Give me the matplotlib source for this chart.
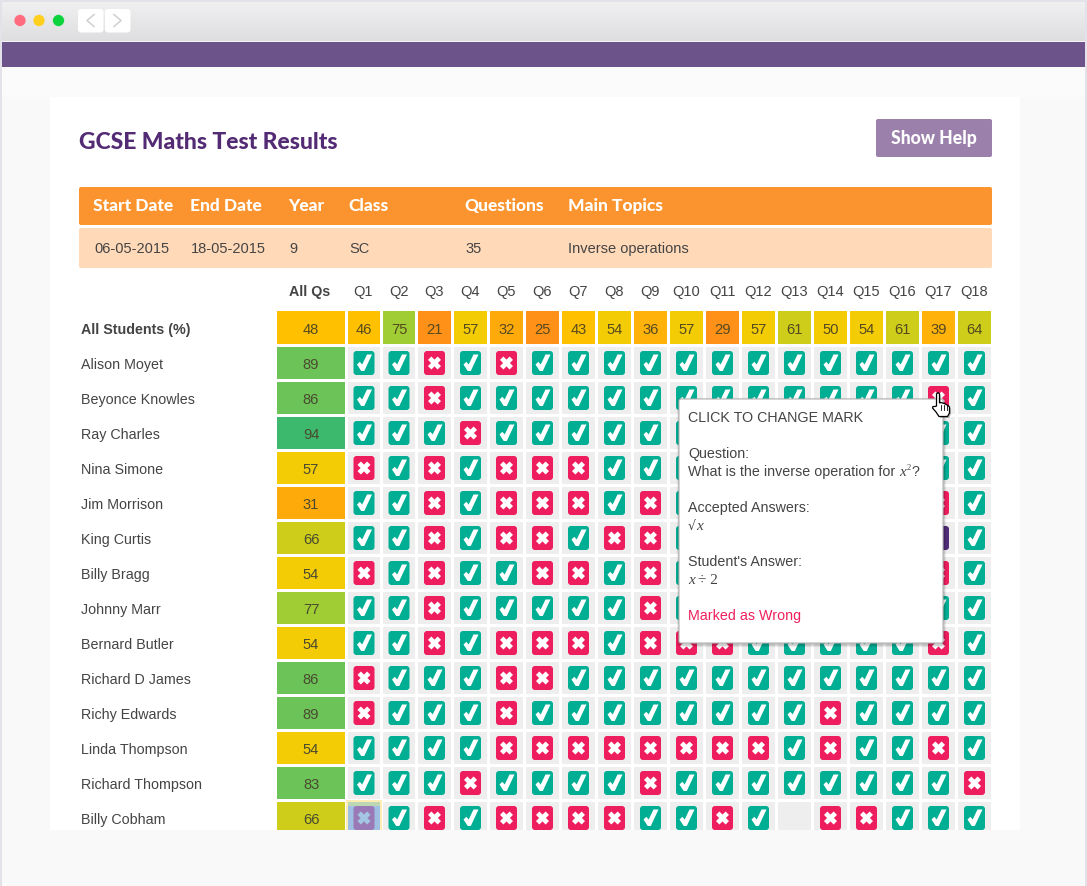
import numpy as np
import matplotlib
matplotlib.use("Agg")
import matplotlib.pyplot as plt
from matplotlib.patches import Rectangle, FancyBboxPatch, Polygon, Circle

# -- data --
title = "GCSE Maths Test Results"
info_heads = ["Start Date", "End Date", "Year", "Class", "Questions", "Main Topics"]
info_vals = ["06-05-2015", "18-05-2015", "9", "SC", "35", "Inverse operations"]
questions = ["Q%d" % i for i in range(1, 19)]
q_averages = [46, 75, 21, 57, 32, 25, 43, 54, 36, 57, 29, 57, 61, 50, 54, 61, 39, 64]
all_average = 48
students = ["Alison Moyet", "Beyonce Knowles", "Ray Charles", "Nina Simone", "Jim Morrison",
            "King Curtis", "Billy Bragg", "Johnny Marr", "Bernard Butler", "Richard D James",
            "Richy Edwards", "Linda Thompson", "Richard Thompson", "Billy Cobham"]
student_scores = [89, 86, 94, 57, 31, 66, 54, 77, 54, 86, 89, 54, 83, 66]
# c right, x wrong, p selected, h dragged, . not marked
marks = ["ccxcxccccccccccccc",
         "ccxcccccccccccccxc",
         "cccxcccccccccccccc",
         "xcxcxxxccccccccccc",
         "ccxcxxxcxcccccccxc",
         "ccxcxxcxxcccccccpc",
         "xcxccxxcxcccccccxc",
         "ccxcccccxccccccccc",
         "ccxcxxxcxxxcccccxc",
         "xcccxxcccccccccccc",
         "xcccxccccccccxcccc",
         "ccccxxxxxxxxcxccxc",
         "cccxccccxccccccccx",
         "hcxcxxxxccxc.xxccc"]
tooltip_lines = ["CLICK TO CHANGE MARK", "Question:", "What is the inverse operation for",
                 "Accepted Answers:", "Student's Answer:"]

BODY = "Liberation Sans"
SERIF = "Liberation Serif"
HEAD = "Lato"
TEAL = "#00AE93"
PINK = "#EE1E5E"
INK = "#444444"


def score_colour(v):
    # bands as they look on the page
    bands = [(30, "#FF9018"), (35, "#FFAA0B"), (42, "#FFB20A"), (49, "#FFC000"),
             (58, "#F3CC06"), (70, "#CDCD1A"), (80, "#A0CC34"), (90, "#6CC358")]
    for top, col in bands:
        if v < top:
            return col
    return "#3DB96E"


def col_left(j):
    # the first two columns are a pixel narrower
    return 348 + 35 * j if j < 2 else 418 + 36 * (j - 2)


def col_width(j):
    return 32 if j < 2 else 33


fig = plt.figure(figsize=(10.87, 8.86), dpi=100)
ax = fig.add_axes([0, 0, 1, 1])
ax.set_xlim(0, 1087)
ax.set_ylim(886, 0)
ax.axis("off")


def box(x0, y0, x1, y1, col, z=1, **kw):
    ax.add_patch(Rectangle((x0, y0), x1 - x0, y1 - y0, fc=col, ec="none", zorder=z, **kw))


def rbox(x0, y0, x1, y1, col, r=3, z=1, ec="none", lw=0):
    ax.add_patch(FancyBboxPatch((x0 + r, y0 + r), x1 - x0 - 2 * r, y1 - y0 - 2 * r,
                                boxstyle="round,pad=%g,rounding_size=%g" % (r, r),
                                fc=col, ec=ec, lw=lw, zorder=z))


def vgrad(x0, y0, x1, y1, c0, c1, z=1):
    g = np.linspace(0, 1, 64)[:, None, None]
    a = np.array(matplotlib.colors.to_rgb(c0))
    b = np.array(matplotlib.colors.to_rgb(c1))
    ax.imshow(a + (b - a) * g * np.ones((64, 1, 3)), extent=(x0, x1, y1, y0),
              aspect="auto", zorder=z, interpolation="bilinear")
    ax.set_xlim(0, 1087)
    ax.set_ylim(886, 0)


TICK = [(-7, 1.5), (-4.2, -1.2), (-1.8, 1.5), (3, -8.5), (8, -8.5), (0.3, 8), (-2.8, 8)]
a, b = 2.4, 6.8
PLUS = np.array([(-a, -b), (a, -b), (a, -a), (b, -a), (b, a), (a, a), (a, b), (-a, b),
                 (-a, a), (-b, a), (-b, -a), (-a, -a)])
CROSS = PLUS @ np.array([[1, -1], [1, 1]]) / np.sqrt(2)


def draw_icon(cx, cy, kind, z=3):
    col = {"c": TEAL, "x": PINK, "p": "#512D78", "h": "#9A7AB6"}[kind]
    fg = "#A4C6E4" if kind == "h" else "white"
    rbox(cx - 10.5, cy - 12, cx + 10.5, cy + 12, col, r=3, z=z)
    if kind == "p":
        return  # glyph sits under the tooltip
    pts = TICK if kind == "c" else CROSS
    ax.add_patch(Polygon([(cx + px, cy + py) for px, py in pts], closed=True, fc=fg, ec="none", zorder=z))


def label(x, y, s, size=10.3, col=INK, ha="left", weight="normal", family=BODY, z=5, style="normal"):
    return ax.text(x, y, s, fontsize=size, color=col, ha=ha, va="center", fontweight=weight,
                   family=family, zorder=z, fontstyle=style)


# -- window chrome --
box(0, 0, 1087, 886, "#E2E2E8", z=0)
box(2, 2, 1085, 886, "#F9F9FA", z=0)
vgrad(2, 2, 1085, 41, "#F0F0F1", "#DEDDDF", z=0.5)
box(2, 41, 1085, 42, "#F5F5F5", z=0.6)
box(2, 42, 1085, 67, "#6C548B", z=0.6)
box(2, 67, 1085, 97, "#FBFBFB", z=0.6)
box(50, 97, 1020, 830, "white", z=0.7)
for cx, col in zip([20, 39, 58.5], ["#FF6B7F", "#FFCF1E", "#0CD23C"]):
    ax.add_patch(Circle((cx, 20.5), 6, fc=col, ec="#E8E8E8", lw=0.5, zorder=1))
for x0, pts in [(78, [(16, 5.5), (9, 11.5), (16, 17.5)]), (105, [(9, 5.5), (16, 11.5), (9, 17.5)])]:
    rbox(x0, 9, x0 + 25.5, 32.5, "white", r=3, z=1)
    ax.plot([x0 + p[0] for p in pts], [9 + p[1] for p in pts], color="#CFCFCF", lw=1.1, zorder=2)

# -- heading and info table --
label(79, 142, title, size=16.5, col="#532A74", weight="black", family=HEAD)
rbox(876, 119, 992, 157, "#9C80AC", r=2)
label(934, 138, "Show Help", size=12.7, col="white", ha="center", weight="black", family=HEAD)
rbox(79, 187, 992, 225, "#FB942E", r=2)
rbox(79, 228, 992, 268, "#FFD9B8", r=2)
for x, s in zip([93, 190, 288, 348, 464, 568], info_heads):
    label(x, 206, s, size=12.5, col="white", weight="black", family=HEAD)
for x, s in zip([94, 191, 289, 349, 465, 568], info_vals):
    label(x, 248.5, s, size=10.5)

# -- results grid --
label(310, 292, "All Qs", ha="center", weight="bold")
label(81, 330, "All Students (%)", weight="bold")
box(277, 311, 345, 344, score_colour(all_average))
label(311, 330, str(all_average), ha="center", col="#554a20", size=10.6)
for j, q in enumerate(questions):
    xc = col_left(j) + col_width(j) / 2
    label(xc - 0.5, 292, q, ha="center", size=10.5)
    box(col_left(j), 311, col_left(j) + col_width(j), 344, score_colour(q_averages[j]))
    label(xc, 330, str(q_averages[j]), ha="center", col="#554a20", size=10.6)

for i, name in enumerate(students):
    top = 347 + 35 * i
    yc = top + 17
    label(81, yc + 1, name)
    box(277, top, 345, top + 32, score_colour(student_scores[i]))
    label(311, yc + 1, str(student_scores[i]), ha="center", col="#4a4a30", size=10.6)
    for j, m in enumerate(marks[i]):
        xc = col_left(j) + col_width(j) / 2
        box(col_left(j), top, col_left(j) + col_width(j), top + 32, "#EEEEEE", z=2)
        if m == "h":
            # cell being dragged
            box(col_left(j) - 2, top - 2, col_left(j) + col_width(j) + 2, top + 34, "#FFEDB8", z=2.2)
            box(col_left(j), top, col_left(j) + col_width(j), top + 34, "#9FC0E2", z=2.3)
            box(col_left(j), top, col_left(j) + col_width(j), top + 4, "#BDD6B4", z=2.4)
        if m != ".":
            draw_icon(xc, top + 16, m)

# page foot hides the last row
box(2, 830, 1085, 886, "#F9F9FA", z=4)

# -- tooltip --
for k, al in zip([5, 4, 3, 2, 1], [0.02, 0.03, 0.04, 0.05, 0.07]):
    rbox(679 - k / 2, 399 + 1 - k / 2, 943 + 1 + k / 2, 643 + 2 + k / 2, (0, 0, 0, al), r=3, z=6)
rbox(679, 399, 943, 643, "white", r=2, z=7, ec="#B4B4B4", lw=0.8)
label(688, 418, tooltip_lines[0], z=8)
label(688, 454, tooltip_lines[1], z=8)
label(688, 472, tooltip_lines[2], z=8)
label(899.5, 472, "x", family=SERIF, style="italic", size=11, z=8)
label(907, 467.5, "2", size=6, family=SERIF, z=8)
label(911, 472, "?", z=8)
label(688, 508, tooltip_lines[3], z=8)
label(688, 526, "\u221a", family="DejaVu Sans", size=9, z=8)
label(696, 526, "x", family=SERIF, style="italic", size=11, z=8)
label(688, 562, tooltip_lines[4], z=8)
label(688, 580, "x", family=SERIF, style="italic", size=11, z=8)
label(698.5, 580, "\u00f7 2", family=SERIF, size=11, z=8)
label(688, 616, "Marked as Wrong", col=PINK, z=8)

# -- hand cursor --
hand = [(936.5, 406), (936.5, 394), (938, 392.5), (939.5, 394), (939.5, 403), (941, 402.5), (942.5, 403),
        (944.5, 403.5), (946, 404.5), (948, 405.5), (949.5, 407), (949.5, 413), (947.5, 416.5), (939, 416.5),
        (936, 412), (932.5, 408), (933, 406.5), (935, 406.5)]
ax.add_patch(Polygon([(x + 1.5, y + 1.5) for x, y in hand], closed=True, fc=(0, 0, 0, 0.25), ec="none", zorder=8.5))
ax.add_patch(Polygon(hand, closed=True, fc="white", ec="black", lw=0.9, zorder=9))
for x in [941, 943.8, 946.5]:
    ax.plot([x, x], [405, 410], color="black", lw=0.6, zorder=9.5)

fig.savefig("out.png", dpi=100)
